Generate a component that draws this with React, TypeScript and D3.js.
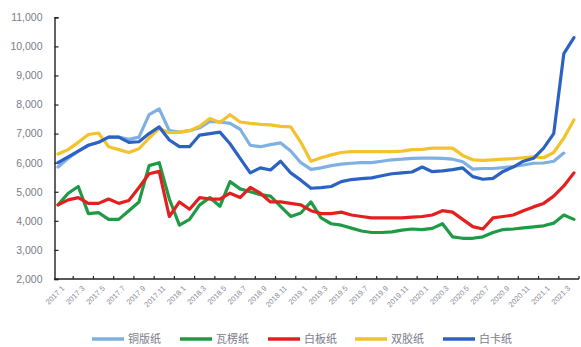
import React, { useEffect, useRef } from 'react';
import * as d3 from 'd3';

const months = [
  '2017.1', '2017.2', '2017.3', '2017.4', '2017.5', '2017.6', '2017.7', '2017.8', '2017.9', '2017.10', '2017.11', '2017.12',
  '2018.1', '2018.2', '2018.3', '2018.4', '2018.5', '2018.6', '2018.7', '2018.8', '2018.9', '2018.10', '2018.11', '2018.12',
  '2019.1', '2019.2', '2019.3', '2019.4', '2019.5', '2019.6', '2019.7', '2019.8', '2019.9', '2019.10', '2019.11', '2019.12',
  '2020.1', '2020.2', '2020.3', '2020.4', '2020.5', '2020.6', '2020.7', '2020.8', '2020.9', '2020.10', '2020.11', '2020.12',
  '2021.1', '2021.2', '2021.3', '2021.4'
];

// tick labels shown on the x axis (every second month)
const tickLabels = [
  '2017.1', '2017.3', '2017.5', '2017.7', '2017.9', '2017.11',
  '2018.1', '2018.3', '2018.5', '2018.7', '2018.9', '2018.11',
  '2019.1', '2019.3', '2019.5', '2019.7', '2019.9', '2019.11',
  '2020.1', '2020.3', '2020.5', '2020.7', '2020.9', '2020.11',
  '2021.1', '2021.3'
];

const yTicks = [2000, 3000, 4000, 5000, 6000, 7000, 8000, 9000, 10000, 11000];

// 铜版纸 (no value for 2021.4)
const coated = [
  5850, 6150, 6400, 6600, 6700, 6880, 6880, 6800, 6880, 7650, 7850, 7100,
  7050, 7100, 7200, 7420, 7400, 7350, 7150, 6600, 6550, 6620, 6680, 6400,
  6000, 5770, 5820, 5900, 5950, 5980, 6000, 6000, 6050, 6100, 6120, 6150,
  6160, 6160, 6150, 6120, 6030, 5780, 5800, 5800, 5830, 5870, 5920, 5980,
  5990, 6050, 6330
];

// 瓦楞纸
const corrugated = [
  4550, 4950, 5180, 4250, 4280, 4050, 4050, 4350, 4650, 5900, 6000, 4750,
  3850, 4050, 4550, 4800, 4500, 5350, 5100, 5000, 4900, 4850, 4500, 4150,
  4270, 4650, 4100, 3900, 3850, 3750, 3650, 3600, 3600, 3620, 3680, 3720,
  3700, 3740, 3900, 3450, 3400, 3400, 3450, 3600, 3700, 3720, 3760, 3790,
  3830, 3920, 4200, 4050
];

// 白板纸
const whiteboard = [
  4550, 4720, 4800, 4600, 4600, 4750, 4600, 4700, 5150, 5620, 5700, 4150,
  4650, 4400, 4800, 4750, 4750, 4950, 4800, 5150, 4950, 4650, 4650, 4600,
  4550, 4350, 4250, 4250, 4300, 4200, 4150, 4100, 4100, 4100, 4100, 4130,
  4150, 4200, 4350, 4300, 4050, 3800, 3720, 4100, 4150, 4200, 4350, 4480,
  4600, 4850, 5200, 5650
];

// 双胶纸
const offset = [
  6300, 6450, 6700, 6970, 7020, 6550, 6450, 6350, 6480, 6850, 7180, 7030,
  7050, 7100, 7250, 7520, 7380, 7650, 7400, 7350, 7320, 7300, 7250, 7230,
  6700, 6050, 6170, 6270, 6350, 6380, 6380, 6380, 6380, 6380, 6400, 6450,
  6460, 6500, 6500, 6500, 6250, 6100, 6080, 6100, 6120, 6140, 6170, 6200,
  6170, 6350, 6850, 7470
];

// 白卡纸
const ivory = [
  6000, 6200, 6400, 6600, 6700, 6880, 6880, 6700, 6720, 7000, 7230, 6780,
  6550, 6550, 6950, 7000, 7050, 6650, 6150, 5650, 5820, 5750, 6050, 5650,
  5400, 5120, 5140, 5180, 5350, 5420, 5450, 5480, 5550, 5620, 5650, 5680,
  5850, 5690, 5720, 5760, 5820, 5520, 5430, 5460, 5700, 5850, 6050, 6150,
  6500, 7000, 9750, 10300
];

const seriesNames = ['铜版纸', '瓦楞纸', '白板纸', '双胶纸', '白卡纸'];
const seriesValues = [coated, corrugated, whiteboard, offset, ivory];
const seriesColors = ['#7fb0e2', '#1f9a45', '#e3201f', '#f3c22c', '#2b62c4'];

const W = 581;
const H = 347;

const PaperPriceChart = () => {
  const ref = useRef(null);

  useEffect(() => {
    draw();
  }, []);

  const draw = () => {
    const svg = d3.select(ref.current);
    svg.selectAll('*').remove();

    const x = d3.scaleBand().domain(months).range([53, 579]).padding(0);
    const y = d3.scaleLinear().domain([2000, 11000]).range([279, 17.3]);
    const cx = (m) => x(m) + x.bandwidth() / 2;

    const textColor = '#7a7b8a';
    const numFont = '"Liberation Sans", Arial, sans-serif';

    // y axis
    const yAxis = d3.axisLeft(y).tickValues(yTicks).tickSize(-4).tickPadding(12)
      .tickFormat(d3.format(','));
    const gy = svg.append('g').attr('transform', 'translate(54.5,0)').call(yAxis);
    gy.select('.domain').attr('stroke', '#222').attr('stroke-width', 1.4);
    gy.selectAll('.tick line').attr('stroke', '#222').attr('stroke-width', 1.2);
    gy.selectAll('.tick text')
      .attr('fill', textColor)
      .style('font-family', numFont)
      .style('font-size', '10.5px');

    // x axis: ticks at category boundaries every two months
    const boundaries = tickLabels.slice(1).map(m => x(m)).concat([x.range()[1]]);
    svg.append('line')
      .attr('x1', 54).attr('x2', x.range()[1])
      .attr('y1', 279).attr('y2', 279)
      .attr('stroke', '#222').attr('stroke-width', 1.6);
    svg.append('g').selectAll('line').data(boundaries).join('line')
      .attr('x1', d => d).attr('x2', d => d)
      .attr('y1', 276).attr('y2', 279)
      .attr('stroke', '#222').attr('stroke-width', 1.2);

    svg.append('g').selectAll('text').data(tickLabels).join('text')
      .attr('transform', d => `translate(${cx(d) + 5},${287}) rotate(-45)`)
      .attr('text-anchor', 'end')
      .attr('dy', '0.35em')
      .attr('fill', '#8a8b98')
      .style('font-family', numFont)
      .style('font-size', '7.5px')
      .text(d => d);

    // lines
    const line = d3.line()
      .x((d, i) => cx(months[i]))
      .y(d => y(d))
      .curve(d3.curveLinear);

    seriesValues.forEach((vals, k) => {
      svg.append('path')
        .datum(vals)
        .attr('d', line)
        .attr('fill', 'none')
        .attr('stroke', seriesColors[k])
        .attr('stroke-width', 3.2)
        .attr('stroke-linejoin', 'round')
        .attr('stroke-linecap', 'round');
    });

    // legend
    const legendX = [92, 180, 268, 355, 443];
    const lg = svg.append('g').selectAll('g').data(seriesNames).join('g')
      .attr('transform', (d, i) => `translate(${legendX[i]},339)`);
    lg.append('line')
      .attr('x1', 0).attr('x2', 32)
      .attr('stroke', (d, i) => seriesColors[i])
      .attr('stroke-width', 3.5);
    lg.append('text')
      .attr('x', 36).attr('dy', '0.36em')
      .attr('fill', textColor)
      .style('font-family', '"Noto Sans CJK SC", sans-serif')
      .style('font-size', '11px')
      .text(d => d);
  };

  return (
    <svg ref={ref} width={W} height={H}
      style={{ position: 'absolute', left: 0, top: 0, background: '#fff' }} />
  );
};

export default function App() {
  return <PaperPriceChart />;
}
